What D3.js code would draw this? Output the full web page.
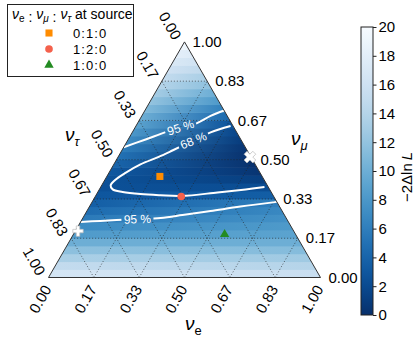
<!DOCTYPE html>
<html>
<head>
<meta charset="utf-8">
<script src="https://cdn.jsdelivr.net/npm/d3@7"></script>
</head>
<body style="margin:0;background:#fff">
<div id="chart"></div>
<script>
// ternary grid
const tickVals = [0, 1/6, 2/6, 3/6, 4/6, 5/6, 1]
const tickLabels = ['0.00', '0.17', '0.33', '0.50', '0.67', '0.83', '1.00']

// -2 ln L per horizontal row (nu_mu bins of 1/30), at the nu_e = 0 edge and the nu_tau = 0 edge
const rowLeft = [16.5, 15, 13.3, 11.7, 10, 8.3, 7, 5.7, 4.6, 3.6, 2.9, 2.4, 2.5, 3.0, 4.0,
  5.0, 5.9, 7.0, 8.0, 9.0, 10.0, 11.0, 12.0, 13.0, 14.0, 15.0, 16.0, 17.0, 18.0, 19.2]
const rowRight = [15.5, 14, 12.7, 11.3, 10, 9, 8.2, 7.5, 6.8, 6.0, 3.5, 2.2, 1.1, 0.4, 0.1,
  0.1, 0.4, 1.0, 1.7, 2.7, 4.5, 6.2, 8.3, 10.0, 11.8, 13.3, 14.8, 16.2, 17.5, 19.0]

// contours, points as [nu_e, nu_mu]
const c95upper = [[0, 0.553], [0.064, 0.586], [0.122, 0.617], [0.167, 0.637], [0.214, 0.652], [0.253, 0.686], [0.291, 0.709]]
const c68 = [[0.348, 0.643], [0.288, 0.616], [0.242, 0.582], [0.186, 0.539], [0.149, 0.512], [0.098, 0.480],
  [0.061, 0.444], [0.037, 0.412], [0.033, 0.391], [0.049, 0.374], [0.091, 0.363], [0.161, 0.354],
  [0.237, 0.349], [0.316, 0.346], [0.441, 0.361], [0.538, 0.374], [0.602, 0.384]]
const c95lower = [[0, 0.236], [0.071, 0.240], [0.128, 0.244], [0.203, 0.248], [0.286, 0.253], [0.36, 0.265],
  [0.455, 0.282], [0.555, 0.301], [0.679, 0.321]]
const contourLabels = [
  {text: '95 %', e: 0.167, m: 0.637, rot: -18},
  {text: '68 %', e: 0.242, m: 0.582, rot: -22},
  {text: '95 %', e: 0.203, m: 0.248, rot: -2}
]

// points at Earth
const sourceNames = ['0\u200A:\u200A1\u200A:\u200A0', '1\u200A:\u200A2\u200A:\u200A0', '1\u200A:\u200A0\u200A:\u200A0']
const sourceE = [0.195, 0.316, 0.556]
const sourceM = [0.429, 0.344, 0.183]
const sourceColors = ['#ff8c00', '#f4614c', '#238b22']
const bestE = [0.485, 0.01]
const bestM = [0.511, 0.197]

const width = 415
const height = 340
const font = '"Liberation Sans", Arial, sans-serif'

const svg = d3.select('#chart').append('svg')
  .attr('width', width)
  .attr('height', height)
  .attr('font-family', font)
  .style('font-family', font)

const xs = d3.scaleLinear().domain([0, 1]).range([48.5, 320.5])
const ys = d3.scaleLinear().domain([0, 1]).range([277.5, 41.9])
const proj = (e, m) => [xs(e + m / 2), ys(m)]

const color = d3.scaleSequential(t => d3.interpolateBlues(1 - t)).domain([0, 20])

const defs = svg.append('defs')
const corners = [proj(0, 0), proj(1, 0), proj(0, 1)]

defs.append('clipPath').attr('id', 'tri')
  .append('polygon').attr('points', corners.map(p => p.join(',')).join(' '))

// heatmap rows
const nRows = rowLeft.length
const heat = svg.append('g').attr('clip-path', 'url(#tri)')
rowLeft.forEach(function(v, i) {
  var mc = (i + 0.5) / nRows
  var grad = defs.append('linearGradient')
    .attr('id', 'row' + i)
    .attr('gradientUnits', 'userSpaceOnUse')
    .attr('x1', proj(0, mc)[0]).attr('x2', proj(1 - mc, mc)[0])
    .attr('y1', 0).attr('y2', 0)
  grad.append('stop').attr('offset', 0).attr('stop-color', color(v))
  grad.append('stop').attr('offset', 1).attr('stop-color', color(rowRight[i]))
  var yTop = ys((i + 1) / nRows)
  var yBot = ys(i / nRows)
  heat.append('rect')
    .attr('x', xs(0) - 2)
    .attr('width', xs(1) - xs(0) + 4)
    .attr('y', yTop - 0.3)
    .attr('height', yBot - yTop + 0.6)
    .attr('fill', 'url(#row' + i + ')')
})

// dotted grid
const grid = svg.append('g')
  .attr('stroke', '#222')
  .attr('stroke-width', 0.9)
  .attr('stroke-dasharray', '1,2')
  .attr('opacity', 0.75)
tickVals.slice(1, 6).forEach(function(k) {
  var segs = [
    [proj(0, k), proj(1 - k, k)],
    [proj(k, 0), proj(k, 1 - k)],
    [proj(1 - k, 0), proj(0, 1 - k)]
  ]
  segs.forEach(function(s) {
    grid.append('line')
      .attr('x1', s[0][0]).attr('y1', s[0][1])
      .attr('x2', s[1][0]).attr('y2', s[1][1])
  })
})

// contour label gaps
const mask = defs.append('mask').attr('id', 'gaps')
mask.append('rect').attr('width', width).attr('height', height).attr('fill', '#fff')
contourLabels.forEach(function(d) {
  var p = proj(d.e, d.m)
  mask.append('rect')
    .attr('x', -16).attr('y', -6).attr('width', 32).attr('height', 12)
    .attr('fill', '#000')
    .attr('transform', `translate(${p[0]},${p[1]}) rotate(${d.rot})`)
})

const line = d3.line()
  .x(d => proj(d[0], d[1])[0])
  .y(d => proj(d[0], d[1])[1])
  .curve(d3.curveCatmullRom)

svg.append('g').attr('mask', 'url(#gaps)')
  .selectAll('path')
  .data([c95upper, c68, c95lower])
  .enter().append('path')
  .attr('d', line)
  .attr('fill', 'none')
  .attr('stroke', '#fff')
  .attr('stroke-width', 2)

svg.selectAll('.clabel')
  .data(contourLabels)
  .enter().append('text')
  .attr('class', 'clabel')
  .attr('transform', d => `translate(${proj(d.e, d.m)[0]},${proj(d.e, d.m)[1]}) rotate(${d.rot})`)
  .attr('text-anchor', 'middle')
  .attr('dy', '0.35em')
  .attr('fill', '#fff')
  .style('font-family', font)
  .style('font-size', '12px')
  .text(d => d.text)

// border
svg.append('polygon')
  .attr('points', corners.map(p => p.join(',')).join(' '))
  .attr('fill', 'none')
  .attr('stroke', '#333')
  .attr('stroke-width', 1)

// markers
const shapes = [d3.symbolSquare, d3.symbolCircle, d3.symbolTriangle]
const sizes = [50, 46, 38]
sourceE.forEach(function(e, i) {
  var p = proj(e, sourceM[i])
  svg.append('path')
    .attr('d', d3.symbol().type(shapes[i]).size(sizes[i]))
    .attr('transform', `translate(${p[0]},${p[1]})`)
    .attr('fill', sourceColors[i])
})
bestE.forEach(function(e, i) {
  var p = proj(e, bestM[i])
  svg.append('path')
    .attr('d', d3.symbol().type(d3.symbolCross).size(i === 0 ? 85 : 60))
    .attr('transform', `translate(${p[0]},${p[1]}) rotate(${i === 0 ? 45 : 0})`)
    .attr('fill', '#fff')
    .attr('stroke', '#bbb')
    .attr('stroke-width', 0.7)
})

// tick labels
const tickFont = '15px'
tickVals.forEach(function(k, i) {
  var b = proj(k, 0)
  svg.append('text')
    .attr('transform', `translate(${b[0] - 1},${b[1] + 9}) rotate(-60)`)
    .attr('text-anchor', 'end').attr('dy', '0.35em')
    .style('font-family', font).style('font-size', tickFont)
    .text(tickLabels[i])
  var r = proj(1 - k, k)
  svg.append('text')
    .attr('x', r[0] + 8).attr('y', r[1])
    .attr('dy', '0.35em')
    .style('font-family', font).style('font-size', tickFont)
    .text(tickLabels[i])
  var l = proj(0, 1 - k)
  svg.append('text')
    .attr('transform', `translate(${l[0] - 7},${l[1] - 3.5}) rotate(60)`)
    .attr('text-anchor', 'end').attr('dy', '0.35em')
    .style('font-family', font).style('font-size', tickFont)
    .text(tickLabels[i])
})

// axis titles
function nuLabel(g, x, y, sub, size) {
  var t = g.append('text').attr('x', x).attr('y', y)
    .style('font-family', font).style('font-size', size + 'px')
  t.append('tspan').style('font-style', 'italic').text('\u03bd')
  t.append('tspan').attr('dy', size * 0.28).style('font-size', (size * 0.68) + 'px')
    .style('font-style', sub === 'e' ? 'normal' : 'italic').text(sub)
  return t
}
nuLabel(svg, 185, 330, 'e', 19)
nuLabel(svg, 291, 145, '\u03bc', 19)
nuLabel(svg, 65, 141, '\u03c4', 19)

// legend
const legend = svg.append('g')
legend.append('rect')
  .attr('x', 7.5).attr('y', 4.5).attr('width', 126).attr('height', 72)
  .attr('fill', '#fff').attr('stroke', '#222').attr('stroke-width', 1)
const title = legend.append('text').attr('x', 12).attr('y', 19)
  .style('font-family', font).style('font-size', '14px')
;['e', '\u03bc', '\u03c4'].forEach(function(s, i) {
  title.append('tspan').attr('dy', i === 0 ? 0 : -3).style('font-style', 'italic').text('\u03bd')
  title.append('tspan').attr('dy', 3).style('font-size', '10px')
    .style('font-style', s === 'e' ? 'normal' : 'italic').text(s)
  if (i < 2) title.append('tspan').text(' : ')
})
title.append('tspan').attr('dy', -3).text(' at source')

sourceNames.forEach(function(name, i) {
  var y = 33 + i * 16
  legend.append('path')
    .attr('d', d3.symbol().type(shapes[i]).size(sizes[i]))
    .attr('transform', `translate(49,${y})`)
    .attr('fill', sourceColors[i])
  legend.append('text')
    .attr('x', 73).attr('y', y).attr('dy', '0.35em')
    .style('font-family', font).style('font-size', '13px')
    .text(name)
})

// colorbar
const cb = {x: 361, y: 27, w: 12, h: 288}
const cbScale = d3.scaleLinear().domain([0, 20]).range([cb.y + cb.h, cb.y])
const cbGrad = defs.append('linearGradient').attr('id', 'cbgrad')
  .attr('x1', 0).attr('x2', 0).attr('y1', 1).attr('y2', 0)
d3.range(0, 21).forEach(function(v) {
  cbGrad.append('stop').attr('offset', v / 20).attr('stop-color', color(v))
})
svg.append('rect')
  .attr('x', cb.x).attr('y', cb.y).attr('width', cb.w).attr('height', cb.h)
  .attr('fill', 'url(#cbgrad)').attr('stroke', '#222').attr('stroke-width', 1)
const cbAxis = svg.append('g')
  .attr('transform', `translate(${cb.x + cb.w},0)`)
  .call(d3.axisRight(cbScale).tickValues(d3.range(0, 21, 2)).tickSize(3.5).tickPadding(2))
cbAxis.attr('font-family', font)
cbAxis.select('.domain').remove()
cbAxis.selectAll('text').style('font-family', font).style('font-size', '15px').attr('fill', '#000')
cbAxis.selectAll('line').attr('stroke', '#222')

const cbt = svg.append('text')
  .attr('transform', `translate(412,${cb.y + cb.h / 2 + 6}) rotate(-90)`)
  .attr('text-anchor', 'middle')
  .style('font-family', font)
  .style('font-size', '15px')
cbt.append('tspan').text('\u22122\u0394ln\u2009')
cbt.append('tspan').style('font-style', 'italic').text('L')
</script>
</body>
</html>
